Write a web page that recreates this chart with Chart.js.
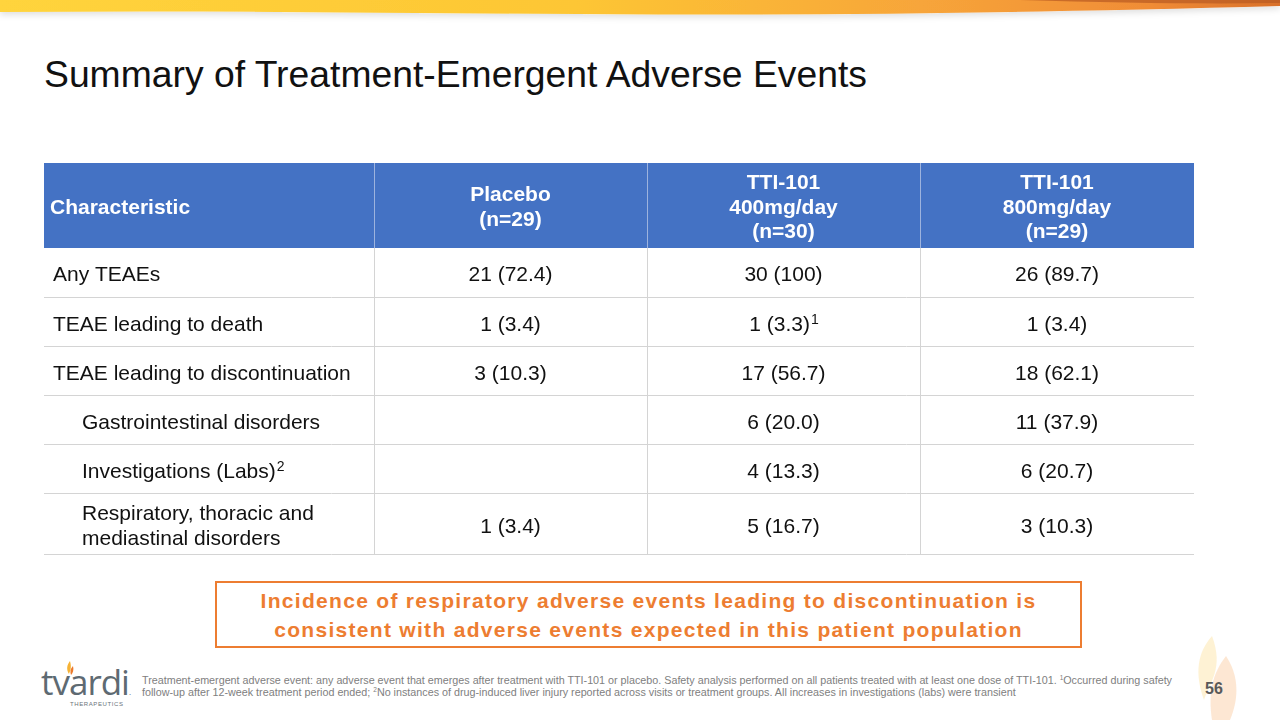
<!DOCTYPE html>
<html>
<head>
<meta charset="utf-8">
<title>Summary of Treatment-Emergent Adverse Events</title>
<script src="https://cdn.jsdelivr.net/npm/chart.js@4.4.1/dist/chart.umd.min.js"></script>
<style>
  body { margin: 0; width: 1280px; height: 720px; overflow: hidden; background: #fff;
         font-family: "Liberation Sans", Arial, sans-serif; position: relative; }
  #wave { position: absolute; left: 0; top: 0; }
  #title { position: absolute; left: 44px; top: 56px; font-size: 37.3px; line-height: 37px; color: #111; white-space: nowrap; }
  #table { position: absolute; left: 44px; top: 163px; }
  #callout { position: absolute; left: 215px; top: 581px; width: 867px; height: 67px; box-sizing: border-box;
             border: 2px solid #ED7D31; color: #ED7D31; font-weight: bold; font-size: 21px; letter-spacing: 1.3px; line-height: 29px;
             display: flex; align-items: center; justify-content: center; text-align: center; }
  #logo { position: absolute; left: 41px; top: 660px; }
  #logo .word { position: absolute; left: 0; top: 0; font-family: "Open Sans", sans-serif; font-size: 35px; color: #5e6a72; letter-spacing: -1px; line-height: 44px; }
  #logo .sub { position: absolute; left: 29px; top: 41px; font-size: 6px; color: #6b747a; letter-spacing: 0.6px; white-space: nowrap; }
  #note { position: absolute; left: 142px; top: 674px; font-size: 10.75px; line-height: 12px; color: #808080; white-space: nowrap; }
  #note sup { font-size: 6.5px; vertical-align: 4px; line-height: 0; }
  #page { position: absolute; left: 1205px; top: 680px; font-size: 16px; font-weight: bold; color: #595959; }
  #flame { position: absolute; left: 1190px; top: 630px; }
</style>
</head>
<body>

<svg id="wave" width="1280" height="30">
  <defs>
    <linearGradient id="wg" x1="0" x2="1" y1="0" y2="0">
      <stop offset="0" stop-color="#FFD43C"/>
      <stop offset="0.45" stop-color="#FDC634"/>
      <stop offset="0.72" stop-color="#F7A53A"/>
      <stop offset="0.9" stop-color="#F08C36"/>
      <stop offset="1" stop-color="#D9702A"/>
    </linearGradient>
    <filter id="sh" x="-5%" y="-50%" width="110%" height="300%">
      <feDropShadow dx="0" dy="3" stdDeviation="3" flood-color="#000" flood-opacity="0.12"/>
    </filter>
  </defs>
  <path d="M0,0 L1280,0 L1280,6 C1060,12 860,15 660,14.5 C430,13.5 220,10 0,12 Z" fill="url(#wg)" filter="url(#sh)"/>
  <path d="M1020,0 L1280,0 L1280,3 C1200,4 1120,3 1020,0 Z" fill="#B85A22" opacity="0.7"/>
</svg>

<div id="title">Summary of Treatment-Emergent Adverse Events</div>

<canvas id="table" width="1150" height="392"></canvas>

<div id="callout">Incidence of respiratory adverse events leading to discontinuation is<br>consistent with adverse events expected in this patient population</div>

<div id="logo">
  <svg width="20" height="20" style="position:absolute;left:20px;top:0px">
    <path d="M9,1 C6,5 5,9 8,14 C9,11 11,8 9,1 Z" fill="#F6B335"/>
    <path d="M12,6 C9,9 9,12 10,15 C12,13 13,10 12,6 Z" fill="#EC7A2C"/>
  </svg>
  <div class="word">tvardi<span style="color:#5e6a72;font-size:8px">.</span></div>
  <div class="sub">THERAPEUTICS</div>
</div>

<div id="note">Treatment-emergent adverse event: any adverse event that emerges after treatment with TTI-101 or placebo. Safety analysis performed on all patients treated with at least one dose of TTI-101. <sup>1</sup>Occurred during safety<br>follow-up after 12-week treatment period ended; <sup>2</sup>No instances of drug-induced liver injury reported across visits or treatment groups. All increases in investigations (labs) were transient</div>

<svg id="flame" width="60" height="90">
  <path d="M22,6 C8,22 4,42 14,70 C20,52 34,38 22,6 Z" fill="#FDE9B8" opacity="0.6"/>
  <path d="M36,26 C22,44 18,64 22,90 L40,90 C50,66 48,44 36,26 Z" fill="#FBD3AE" opacity="0.55"/>
</svg>
<div id="page">56</div>

<script>
// table content
const columnHeaders = [['Characteristic'], ['Placebo', '(n=29)'], ['TTI-101', '400mg/day', '(n=30)'], ['TTI-101', '800mg/day', '(n=29)']];
const characteristics = [['Any TEAEs'], ['TEAE leading to death'], ['TEAE leading to discontinuation'],
  ['Gastrointestinal disorders'], ['Investigations (Labs)'], ['Respiratory, thoracic and', 'mediastinal disorders']];
const characteristicNotes = ['', '', '', '', '2', ''];
const isSubgroup = [false, false, false, true, true, true];

const placeboN = [21, 1, 3, null, null, 1];
const placeboPct = [72.4, 3.4, 10.3, null, null, 3.4];
const placeboNotes = ['', '', '', '', '', ''];
const dose400N = [30, 1, 17, 6, 4, 5];
const dose400Pct = [100, 3.3, 56.7, 20.0, 13.3, 16.7];
const dose400Notes = ['', '1', '', '', '', ''];
const dose800N = [26, 1, 18, 11, 6, 3];
const dose800Pct = [89.7, 3.4, 62.1, 37.9, 20.7, 10.3];
const dose800Notes = ['', '', '', '', '', ''];

// layout (scale units = px of the table)
const COL_EDGES = [0, 330, 603, 876, 1150];
const ROW_EDGES = [0, 85, 135, 184, 233, 282, 331, 392];
const FONT = '"Liberation Sans", Arial, sans-serif';
const BODY_SIZE = 21;

function fmt(n, p) {
  if (n === null) return '';
  return n + ' (' + (p === 100 ? '100' : p.toFixed(1)) + ')';
}
function rowMid(r) { return (ROW_EDGES[r + 1] + ROW_EDGES[r + 2]) / 2; }
function colMid(c) { return (COL_EDGES[c] + COL_EDGES[c + 1]) / 2; }

function cellPoints(col, values) {
  return values.map((v, i) => ({ x: colMid(col), y: rowMid(i), text: v }));
}

const valueColumns = [
  cellPoints(1, placeboN.map((n, i) => fmt(n, placeboPct[i]))),
  cellPoints(2, dose400N.map((n, i) => fmt(n, dose400Pct[i]))),
  cellPoints(3, dose800N.map((n, i) => fmt(n, dose800Pct[i])))
];
const valueNotes = [placeboNotes, dose400Notes, dose800Notes];

//draw text with an optional superscript mark
function richText(ctx, text, note, x, y, align, size) {
  ctx.font = size + 'px ' + FONT;
  const w = ctx.measureText(text).width;
  ctx.font = Math.round(size * 0.66) + 'px ' + FONT;
  const ws = note ? ctx.measureText(note).width : 0;
  let start = x;
  if (align === 'center') start = x - (w + ws) / 2;
  ctx.textAlign = 'left';
  ctx.font = size + 'px ' + FONT;
  ctx.fillText(text, start, y);
  if (note) {
    ctx.font = Math.round(size * 0.66) + 'px ' + FONT;
    ctx.fillText(note, start + w + 1, y - 7);
  }
}

const tablePlugin = {
  id: 'tableCells',
  beforeDatasetsDraw(chart) {
    const { ctx, scales: { x, y } } = chart;
    const px = v => x.getPixelForValue(v);
    const py = v => y.getPixelForValue(v);
    ctx.save();
    // header band
    ctx.fillStyle = '#4472C4';
    ctx.fillRect(px(0), py(ROW_EDGES[0]), px(COL_EDGES[4]) - px(0), py(ROW_EDGES[1]) - py(ROW_EDGES[0]));
    ctx.lineWidth = 1;
    // column rules
    for (let c = 1; c < COL_EDGES.length - 1; c++) {
      const lx = Math.round(px(COL_EDGES[c])) + 0.5;
      ctx.strokeStyle = '#9DB3DE';
      ctx.beginPath(); ctx.moveTo(lx, py(ROW_EDGES[0])); ctx.lineTo(lx, py(ROW_EDGES[1])); ctx.stroke();
      ctx.strokeStyle = '#D4D4D4';
      ctx.beginPath(); ctx.moveTo(lx, py(ROW_EDGES[1])); ctx.lineTo(lx, py(ROW_EDGES[ROW_EDGES.length - 1])); ctx.stroke();
    }
    // row rules
    ctx.strokeStyle = '#D4D4D4';
    for (let r = 2; r < ROW_EDGES.length; r++) {
      const ly = Math.min(Math.round(py(ROW_EDGES[r])) - 0.5, chart.height - 0.5);
      ctx.beginPath(); ctx.moveTo(px(0), ly); ctx.lineTo(px(COL_EDGES[4]), ly); ctx.stroke();
    }
    ctx.restore();
  },
  afterDatasetsDraw(chart) {
    const { ctx, scales: { x, y } } = chart;
    const px = v => x.getPixelForValue(v);
    const py = v => y.getPixelForValue(v);
    ctx.save();
    ctx.textBaseline = 'alphabetic';
    // header
    ctx.fillStyle = '#ffffff';
    ctx.font = 'bold 21px ' + FONT;
    const hMid = py((ROW_EDGES[0] + ROW_EDGES[1]) / 2);
    columnHeaders.forEach((lines, c) => {
      lines.forEach((t, i) => {
        const by = hMid + 8 + (i - (lines.length - 1) / 2) * 24.5;
        if (c === 0) { ctx.textAlign = 'left'; ctx.fillText(t, px(COL_EDGES[0]) + 6, by); }
        else { ctx.textAlign = 'center'; ctx.fillText(t, px(colMid(c)), by); }
      });
    });
    ctx.fillStyle = '#111111';
    // first column, drawn from dataset 0 points
    const labelMeta = chart.getDatasetMeta(0);
    labelMeta.data.forEach((pt, r) => {
      const lines = characteristics[r];
      const lx = pt.x + (isSubgroup[r] ? 38 : 9);
      lines.forEach((t, i) => {
        const by = pt.y + 8 + (i - (lines.length - 1) / 2) * 25;
        richText(ctx, t, i === lines.length - 1 ? characteristicNotes[r] : '', lx, by, 'left', BODY_SIZE);
      });
    });
    // value columns
    for (let d = 1; d < chart.data.datasets.length; d++) {
      const meta = chart.getDatasetMeta(d);
      meta.data.forEach((pt, r) => {
        const t = chart.data.datasets[d].data[r].text;
        if (t) richText(ctx, t, valueNotes[d - 1][r], pt.x, pt.y + 8, 'center', BODY_SIZE);
      });
    }
    ctx.restore();
  }
};

new Chart(document.getElementById('table'), {
  type: 'scatter',
  data: {
    datasets: [
      { label: 'Characteristic', data: characteristics.map((c, i) => ({ x: COL_EDGES[0], y: rowMid(i), text: c.join(' ') })) },
      { label: 'Placebo', data: valueColumns[0] },
      { label: 'TTI-101 400mg/day', data: valueColumns[1] },
      { label: 'TTI-101 800mg/day', data: valueColumns[2] }
    ].map(ds => Object.assign(ds, { pointRadius: 0, pointHoverRadius: 0 }))
  },
  options: {
    responsive: false,
    animation: false,
    events: [],
    layout: { padding: 0 },
    plugins: { legend: { display: false }, tooltip: { enabled: false } },
    scales: {
      x: { type: 'linear', display: false, min: COL_EDGES[0], max: COL_EDGES[4] },
      y: { type: 'linear', display: false, reverse: true, min: ROW_EDGES[0], max: ROW_EDGES[ROW_EDGES.length - 1] }
    }
  },
  plugins: [tablePlugin]
});
</script>
</body>
</html>
